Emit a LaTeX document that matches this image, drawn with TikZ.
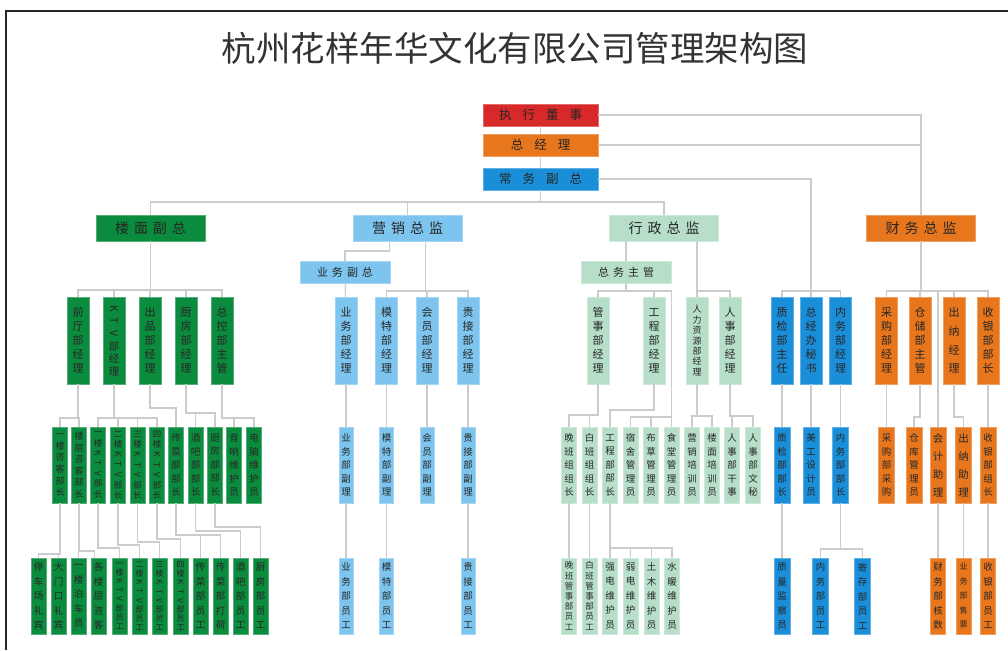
\documentclass[tikz,border=0pt]{standalone}
\usepackage{fontspec}
\usepackage{graphicx}
\setmainfont{Noto Sans CJK SC}
\usetikzlibrary{calc}
\definecolor{cR}{HTML}{D7282A}
\definecolor{cO}{HTML}{E8761C}
\definecolor{cB}{HTML}{1A8ED8}
\definecolor{cG}{HTML}{0B8B3D}
\definecolor{cLB}{HTML}{7DC5EE}
\definecolor{cPG}{HTML}{B6DEC8}
\newcommand\Rt[1]{\rotatebox[origin=c]{-90}{#1}}
\newcommand\cnx[3]{\draw[conn] (#1.south) -- (#1.south |- 0,#3) -| (#2.north);}
\tikzset{
 conn/.style={draw=black!20, line width=1.1pt},
 bx/.style={rectangle, inner sep=0pt, outer sep=0pt, fill=#1, draw=#1!70!white, line width=0.6pt, text=black!85},
 hb1/.style={minimum width=115pt, minimum height=22pt, font=\fontsize{12.5}{14}\selectfont},
 hb2/.style={minimum width=109pt, minimum height=26pt, font=\fontsize{14}{16}\selectfont},
 hb3/.style={minimum width=90pt, minimum height=22pt, font=\fontsize{11}{13}\selectfont},
 l3/.style={minimum width=22pt, minimum height=87pt, align=center, font=\fontsize{11}{14}\selectfont},
 m4/.style={font=\fontsize{11}{18.7}\selectfont},
 m6/.style={font=\fontsize{10.5}{12.6}\selectfont},
 m7/.style={font=\fontsize{9}{10.4}\selectfont},
 l4/.style={minimum width=15pt, minimum height=76pt, align=center, font=\fontsize{9.5}{13.5}\selectfont},
 l5/.style={minimum width=15pt, minimum height=76pt, align=center, font=\fontsize{9.5}{14.5}\selectfont},
 w16/.style={minimum width=16pt},
 w14/.style={minimum width=14pt},
 n4/.style={font=\fontsize{10.5}{18}\selectfont},
 n6/.style={font=\fontsize{9}{11.6}\selectfont},
 n7/.style={font=\fontsize{8.5}{10.2}\selectfont},
 n8/.style={font=\fontsize{8}{9}\selectfont},
 nsm/.style={font=\fontsize{8}{14.5}\selectfont},
}
\begin{document}
\begin{tikzpicture}[x=1pt,y=-1pt]
\useasboundingbox (0,0) rectangle (1008,650);
\draw[line width=1.6pt,black!85] (6,650) -- (6,11) -- (1008,11);
\node[font=\fontsize{34.5}{36}\selectfont,text=black!80] (title) at (515,48) {杭州花样年华文化有限公司管理架构图};

% top chain
\node[bx=cR,hb1] (zs) at (540.5,115) {执\hspace{11pt}行\hspace{11pt}董\hspace{11pt}事};
\node[bx=cO,hb1] (zj) at (540.5,145) {总\hspace{11pt}经\hspace{11pt}理};
\node[bx=cB,hb1] (cf) at (540.5,179) {常\hspace{11pt}务\hspace{11pt}副\hspace{11pt}总};

% level 2
\node[bx=cG,hb2] (lm) at (150.5,228) {楼\hspace{5pt}面\hspace{5pt}副\hspace{5pt}总};
\node[bx=cLB,hb2] (yx) at (407.5,228) {营\hspace{5pt}销\hspace{5pt}总\hspace{5pt}监};
\node[bx=cPG,hb2] (xz) at (664,228) {行\hspace{5pt}政\hspace{5pt}总\hspace{5pt}监};
\node[bx=cO,hb2] (cw) at (921,228) {财\hspace{5pt}务\hspace{5pt}总\hspace{5pt}监};

\node[bx=cLB,hb3] (ywf) at (345,272) {业\hspace{4pt}务\hspace{4pt}副\hspace{4pt}总};
\node[bx=cPG,hb3] (zwz) at (626,272) {总\hspace{4pt}务\hspace{4pt}主\hspace{4pt}管};

% level 3
\node[bx=cG,l3] (g1) at (78,340.5) {前\\厅\\部\\经\\理};
\node[bx=cG,l3,m6] (g2) at (114,340.5) {\Rt{K}\\\Rt{T}\\\Rt{V}\\部\\经\\理};
\node[bx=cG,l3] (g3) at (150,340.5) {出\\品\\部\\经\\理};
\node[bx=cG,l3] (g4) at (186,340.5) {厨\\房\\部\\经\\理};
\node[bx=cG,l3] (g5) at (222,340.5) {总\\控\\部\\主\\管};

\node[bx=cLB,l3] (b1) at (346,340.5) {业\\务\\部\\经\\理};
\node[bx=cLB,l3] (b2) at (386.5,340.5) {模\\特\\部\\经\\理};
\node[bx=cLB,l3] (b3) at (427,340.5) {会\\员\\部\\经\\理};
\node[bx=cLB,l3] (b4) at (468,340.5) {贵\\接\\部\\经\\理};

\node[bx=cPG,l3] (p1) at (598,340.5) {管\\事\\部\\经\\理};
\node[bx=cPG,l3] (p2) at (654,340.5) {工\\程\\部\\经\\理};
\node[bx=cPG,l3,m7] (p3) at (697,340.5) {人\\力\\资\\源\\部\\经\\理};
\node[bx=cPG,l3] (p4) at (730,340.5) {人\\事\\部\\经\\理};

\node[bx=cB,l3] (q1) at (782,340.5) {质\\检\\部\\主\\任};
\node[bx=cB,l3] (q2) at (811,340.5) {总\\经\\办\\秘\\书};
\node[bx=cB,l3] (q3) at (840.5,340.5) {内\\务\\部\\经\\理};

\node[bx=cO,l3] (o1) at (886.5,340.5) {采\\购\\部\\经\\理};
\node[bx=cO,l3] (o2) at (920,340.5) {仓\\储\\部\\主\\管};
\node[bx=cO,l3,m4] (o3) at (954,340.5) {出\\纳\\经\\理};
\node[bx=cO,l3] (o4) at (988,340.5) {收\\银\\部\\部\\长};

% level 4
\node[bx=cG,l4,n6] (h1) at (60,465) {一\\楼\\咨\\客\\部\\长};
\node[bx=cG,l4,n6] (h2) at (79,465) {楼\\层\\咨\\客\\部\\长};
\node[bx=cG,l4,n7] (h3) at (98,465) {一\\楼\\\Rt{K}\\\Rt{T}\\\Rt{V}\\部\\长};
\node[bx=cG,l4,n7] (h4) at (118,465) {二\\楼\\\Rt{K}\\\Rt{T}\\\Rt{V}\\部\\长};
\node[bx=cG,l4,n7] (h5) at (137.5,465) {三\\楼\\\Rt{K}\\\Rt{T}\\\Rt{V}\\部\\长};
\node[bx=cG,l4,n7] (h6) at (157,465) {四\\楼\\\Rt{K}\\\Rt{T}\\\Rt{V}\\部\\长};
\node[bx=cG,l4] (h7) at (176,465) {传\\菜\\部\\部\\长};
\node[bx=cG,l4] (h8) at (195.5,465) {酒\\吧\\部\\部\\长};
\node[bx=cG,l4] (h9) at (215,465) {厨\\房\\部\\部\\长};
\node[bx=cG,l4] (h10) at (234,465) {音\\响\\维\\护\\员};
\node[bx=cG,l4] (h11) at (254,465) {电\\脑\\维\\护\\员};

\node[bx=cLB,l4,w14] (c1) at (346,465) {业\\务\\部\\副\\理};
\node[bx=cLB,l4,w14] (c2) at (386.5,465) {模\\特\\部\\副\\理};
\node[bx=cLB,l4,w14] (c3) at (427,465) {会\\员\\部\\副\\理};
\node[bx=cLB,l4,w14] (c4) at (468,465) {贵\\接\\部\\副\\理};

\node[bx=cPG,l4] (s1) at (569,465) {晚\\班\\组\\组\\长};
\node[bx=cPG,l4] (s2) at (589.5,465) {白\\班\\组\\组\\长};
\node[bx=cPG,l4] (s3) at (610,465) {工\\程\\部\\部\\长};
\node[bx=cPG,l4] (s4) at (630.5,465) {宿\\舍\\管\\理\\员};
\node[bx=cPG,l4] (s5) at (651,465) {布\\草\\管\\理\\员};
\node[bx=cPG,l4] (s6) at (671.5,465) {食\\堂\\管\\理\\员};
\node[bx=cPG,l4] (s7) at (692,465) {营\\销\\培\\训\\员};
\node[bx=cPG,l4] (s8) at (712,465) {楼\\面\\培\\训\\员};
\node[bx=cPG,l4] (s9) at (732,465) {人\\事\\部\\干\\事};
\node[bx=cPG,l4] (s10) at (753,465) {人\\事\\部\\文\\秘};

\node[bx=cB,l4,w16] (n1) at (782,465) {质\\检\\部\\部\\长};
\node[bx=cB,l4,w16] (n2) at (811,465) {美\\工\\设\\计\\员};
\node[bx=cB,l4,w16] (n3) at (840.5,465) {内\\务\\部\\部\\长};

\node[bx=cO,l4,w16] (r1) at (886.5,465) {采\\购\\部\\采\\购};
\node[bx=cO,l4,w16] (r2) at (914,465) {仓\\库\\管\\理\\员};
\node[bx=cO,l4,w16,n4] (r3) at (938,465) {会\\计\\助\\理};
\node[bx=cO,l4,w16,n4] (r4) at (963.5,465) {出\\纳\\助\\理};
\node[bx=cO,l4,w16] (r5) at (988,465) {收\\银\\部\\组\\长};

% level 5
\node[bx=cG,l5] (i1) at (38.5,596) {停\\车\\场\\礼\\宾};
\node[bx=cG,l5] (i2) at (58.5,596) {大\\门\\口\\礼\\宾};
\node[bx=cG,l5] (i3) at (78.5,596) {一\\楼\\泊\\车\\员};
\node[bx=cG,l5] (i4) at (98.5,596) {各\\楼\\层\\咨\\客};
\node[bx=cG,l5,n8] (i5) at (119.5,596) {一\\楼\\\Rt{K}\\\Rt{T}\\\Rt{V}\\部\\员\\工};
\node[bx=cG,l5,n8] (i6) at (139.5,596) {二\\楼\\\Rt{K}\\\Rt{T}\\\Rt{V}\\部\\员\\工};
\node[bx=cG,l5,n8] (i7) at (159.5,596) {三\\楼\\\Rt{K}\\\Rt{T}\\\Rt{V}\\部\\员\\工};
\node[bx=cG,l5,n8] (i8) at (180.5,596) {四\\楼\\\Rt{K}\\\Rt{T}\\\Rt{V}\\部\\员\\工};
\node[bx=cG,l5] (i9) at (200.5,596) {传\\菜\\部\\员\\工};
\node[bx=cG,l5] (i10) at (220.5,596) {传\\菜\\部\\打\\荷};
\node[bx=cG,l5] (i11) at (240.5,596) {酒\\吧\\部\\员\\工};
\node[bx=cG,l5] (i12) at (260.5,596) {厨\\房\\部\\员\\工};

\node[bx=cLB,l5,w14] (d1) at (346,596) {业\\务\\部\\员\\工};
\node[bx=cLB,l5,w14] (d2) at (386.5,596) {模\\特\\部\\员\\工};
\node[bx=cLB,l5,w14] (d3) at (468,596) {贵\\接\\部\\员\\工};

\node[bx=cPG,l5,n7] (t1) at (569,596) {晚\\班\\管\\事\\部\\员\\工};
\node[bx=cPG,l5,n7] (t2) at (589.5,596) {白\\班\\管\\事\\部\\员\\工};
\node[bx=cPG,l5] (t3) at (610,596) {强\\电\\维\\护\\员};
\node[bx=cPG,l5] (t4) at (630.5,596) {弱\\电\\维\\护\\员};
\node[bx=cPG,l5] (t5) at (651.5,596) {土\\木\\维\\护\\员};
\node[bx=cPG,l5] (t6) at (672,596) {水\\暖\\维\\护\\员};

\node[bx=cB,l5,w16] (v1) at (782,596) {质\\量\\监\\察\\员};
\node[bx=cB,l5,w16] (v2) at (820.5,596) {内\\务\\部\\员\\工};
\node[bx=cB,l5,w16] (v3) at (862.5,596) {寄\\存\\部\\员\\工};

\node[bx=cO,l5] (u1) at (938,596) {财\\务\\部\\核\\数};
\node[bx=cO,l5,nsm] (u2) at (963.5,596) {业\\务\\部\\售\\票};
\node[bx=cO,l5] (u3) at (988,596) {收\\银\\部\\员\\工};

% ---------- connectors ----------
\begin{scope}[on background layer/.style={}]
\draw[conn] (zs) -- (zj);
\draw[conn] (zj) -- (cf);
\draw[conn] (zs.east) -| (cw.north);
\draw[conn] (zj.east) -| (cw.north);
\draw[conn] (cf.east) -| (q2.north);
\cnx{cf}{lm}{202} \cnx{cf}{yx}{202} \cnx{cf}{xz}{202}

% 楼面
\cnx{lm}{g1}{290} \cnx{lm}{g2}{290} \cnx{lm}{g3}{290} \cnx{lm}{g4}{290} \cnx{lm}{g5}{290}
\cnx{g1}{h1}{418} \cnx{g1}{h2}{418}
\cnx{g2}{h3}{418} \cnx{g2}{h4}{418} \cnx{g2}{h5}{418} \cnx{g2}{h6}{418}
\cnx{g3}{h7}{408}
\cnx{g4}{h8}{413} \cnx{g4}{h9}{413}
\cnx{g5}{h10}{418} \cnx{g5}{h11}{418}
\cnx{h1}{i1}{554} \cnx{h1}{i2}{554}
\cnx{h2}{i3}{551}
\coordinate (i4in) at ([xshift=-4pt]i4.north);
\draw[conn] (h2.south) -- (h2.south |- 0,551) -| (i4in);
\cnx{h3}{i5}{548}
\cnx{h4}{i6}{545}
\cnx{h5}{i7}{542}
\cnx{h6}{i8}{539}
\cnx{h7}{i9}{535} \cnx{h7}{i10}{535}
\cnx{h8}{i11}{531}
\cnx{h9}{i12}{527}

% 营销
\coordinate (yxL) at ([xshift=-18pt]yx.south);
\coordinate (yxR) at ([xshift=18pt]yx.south);
\draw[conn] (yxL) -- (yxL |- 0,251) -| (ywf.north);
\draw[conn] (ywf) -- (b1);
\draw[conn] (yxR) -- (yxR |- 0,291) -| (b2.north);
\draw[conn] (yxR |- 0,291) -| (b3.north);
\draw[conn] (yxR |- 0,291) -| (b4.north);
\draw[conn] (b1) -- (c1); \draw[conn] (c1) -- (d1);
\draw[conn] (b2) -- (c2); \draw[conn] (c2) -- (d2);
\draw[conn] (b3) -- (c3);
\draw[conn] (b4) -- (c4); \draw[conn] (c4) -- (d3);

% 行政
\coordinate (xzL) at ([xshift=-38pt]xz.south);
\coordinate (xzR) at ([xshift=33pt]xz.south);
\draw[conn] (xzL) -- (zwz.north);
\draw[conn] (xzR) -- (xzR |- 0,291) -| (p3.north);
\draw[conn] (xzR |- 0,291) -| (p4.north);
\cnx{zwz}{p1}{291} \cnx{zwz}{p2}{291}
\coordinate (pext) at (671.5,291);
\draw[conn] (zwz.south |- 0,291) -- (pext) -- (pext |- 0,417) -| (s4.north);
\draw[conn] (pext |- 0,417) -| (s5.north);
\draw[conn] (pext |- 0,417) -- (s6.north);
\cnx{p1}{s1}{415} \cnx{p1}{s2}{415}
\cnx{p2}{s3}{410}
\cnx{p3}{s7}{416} \cnx{p3}{s8}{416}
\cnx{p4}{s9}{416} \cnx{p4}{s10}{416}
\draw[conn] (s1) -- (t1); \draw[conn] (s2) -- (t2);
\cnx{s3}{t3}{548} \cnx{s3}{t4}{548} \cnx{s3}{t5}{548} \cnx{s3}{t6}{548}

% 常务副总 direct
\draw[conn] (q1.north) -- (q1.north |- 0,291) -- (q3.north |- 0,291) -- (q3.north);
\draw[conn] (q1) -- (n1); \draw[conn] (q2) -- (n2); \draw[conn] (q3) -- (n3);
\draw[conn] (n1) -- (v1);
\cnx{n3}{v2}{549} \cnx{n3}{v3}{549}

% 财务
\cnx{cw}{o1}{291} \cnx{cw}{o2}{291} \cnx{cw}{o3}{291} \cnx{cw}{o4}{291}
\draw[conn] (r3.north |- 0,291) -- (r3.north);
\draw[conn] (o1) -- (r1);
\cnx{o2}{r2}{417}
\cnx{o3}{r4}{417}
\draw[conn] (o4) -- (r5);
\draw[conn] (r3) -- (u1); \draw[conn] (r4) -- (u2); \draw[conn] (r5) -- (u3);
\end{scope}
\end{tikzpicture}
\end{document}
